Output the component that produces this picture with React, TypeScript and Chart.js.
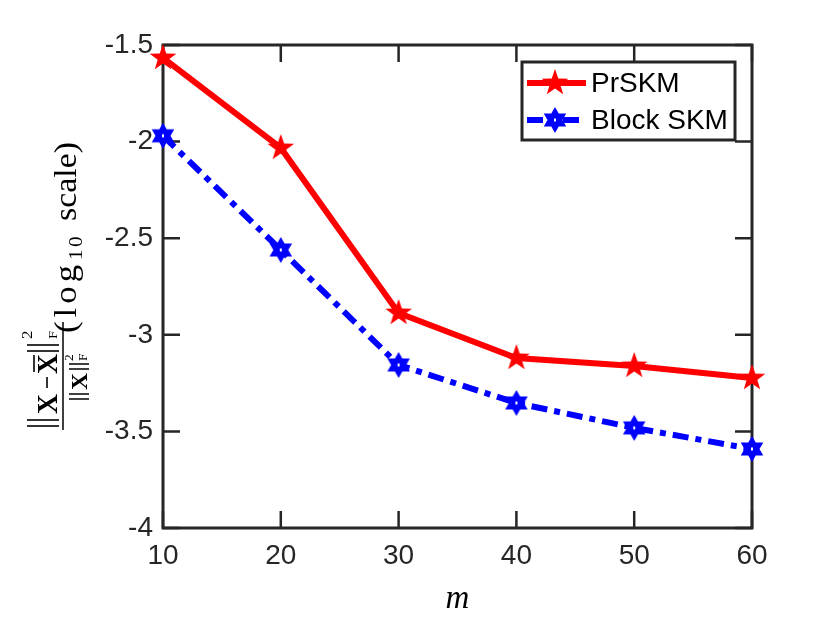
import { useEffect, useRef } from "react";
import { Chart, registerables } from "chart.js";

Chart.register(...registerables);

// values
const mValues = [10, 20, 30, 40, 50, 60];
const prskmErr = [-1.567, -2.033, -2.887, -3.12, -3.161, -3.224];
const blockSkmErr = [-1.97, -2.561, -3.156, -3.353, -3.482, -3.591];
const yTicks = [-4, -3.5, -3, -2.5, -2, -1.5];
const seriesNames = ["PrSKM", "Block SKM"];

const AXIS = "#262626";
const RED = "#ff0000";
const BLUE = "#0000ff";
const TICK_FONT = "Liberation Sans";
const SERIF = "Liberation Serif";
const TICK_LEN = 17;
const DASH_DOT = [16, 7, 6, 7];

function makeStar(points: number, outer: number, inner: number, color: string, hole: boolean) {
  const size = Math.ceil(outer * 2 + 4);
  const c = document.createElement("canvas");
  c.width = size;
  c.height = size;
  const g = c.getContext("2d")!;
  const cx = size / 2;
  const cy = size / 2;
  g.beginPath();
  for (let i = 0; i < points * 2; i++) {
    const r = i % 2 === 0 ? outer : inner;
    const a = -Math.PI / 2 + (i * Math.PI) / points;
    const x = cx + r * Math.cos(a);
    const y = cy + r * Math.sin(a);
    if (i === 0) g.moveTo(x, y);
    else g.lineTo(x, y);
  }
  g.closePath();
  g.fillStyle = color;
  g.fill();
  if (hole) {
    g.fillStyle = "#ffffff";
    g.fillRect(cx - 1, cy - 1.5, 2, 3);
  }
  return c;
}

// place text in [u0, u1] along the baseline: mild stretch, rest as letter spacing
function fitText(ctx: CanvasRenderingContext2D, text: string, font: string, u0: number, u1: number, v: number) {
  const c = ctx as any;
  ctx.font = font;
  c.letterSpacing = "0px";
  const w = ctx.measureText(text).width;
  const target = u1 - u0;
  const s = Math.min(target / w, 1.12);
  ctx.save();
  ctx.translate(u0, v);
  ctx.scale(s, 1);
  if (text.length > 1 && target / s > w) {
    c.letterSpacing = `${(target / s - w) / (text.length - 0.5)}px`;
  }
  ctx.fillText(text, 0, 0);
  ctx.restore();
  c.letterSpacing = "0px";
}

function seg(ctx: CanvasRenderingContext2D, u0: number, v0: number, u1: number, v1: number, lw: number) {
  ctx.lineWidth = lw;
  ctx.beginPath();
  ctx.moveTo(u0, v0);
  ctx.lineTo(u1, v1);
  ctx.stroke();
}

const App = () => {
  const canvasRef = useRef<HTMLCanvasElement>(null);

  useEffect(() => {
    if (!canvasRef.current) return;
    const redStar = makeStar(5, 14, 5.6, RED, false);
    const blueHex = makeStar(6, 13, 7.5, BLUE, true);

    const frame = {
      id: "frame",
      beforeDatasetsDraw(chart: any) {
        const { ctx, chartArea: a, scales } = chart;
        ctx.save();
        ctx.strokeStyle = AXIS;
        ctx.lineWidth = 2.5;
        ctx.beginPath();
        scales.x.ticks.forEach((t: any) => {
          const px = scales.x.getPixelForValue(t.value);
          ctx.moveTo(px, a.bottom);
          ctx.lineTo(px, a.bottom - TICK_LEN);
          ctx.moveTo(px, a.top);
          ctx.lineTo(px, a.top + TICK_LEN);
        });
        scales.y.ticks.forEach((t: any) => {
          const py = scales.y.getPixelForValue(t.value);
          ctx.moveTo(a.left, py);
          ctx.lineTo(a.left + TICK_LEN, py);
          ctx.moveTo(a.right, py);
          ctx.lineTo(a.right - TICK_LEN, py);
        });
        ctx.stroke();
        ctx.lineWidth = 3;
        ctx.strokeRect(a.left, a.top, a.right - a.left, a.bottom - a.top);
        ctx.restore();
      },
      afterDatasetsDraw(chart: any) {
        const { ctx, chartArea: a } = chart;
        ctx.save();

        // legend
        const lx = 522, ly = 62, lw = 213, lh = 78;
        ctx.fillStyle = "#ffffff";
        ctx.fillRect(lx, ly, lw, lh);
        ctx.strokeStyle = AXIS;
        ctx.lineWidth = 3;
        ctx.strokeRect(lx, ly, lw, lh);
        const rows = [
          { y: 83, color: RED, dash: [] as number[], img: redStar },
          { y: 120, color: BLUE, dash: DASH_DOT, img: blueHex },
        ];
        rows.forEach((r, i) => {
          ctx.strokeStyle = r.color;
          ctx.lineWidth = 6;
          ctx.setLineDash(r.dash);
          ctx.beginPath();
          ctx.moveTo(527, r.y);
          ctx.lineTo(586, r.y);
          ctx.stroke();
          ctx.setLineDash([]);
          ctx.drawImage(r.img, 555 - r.img.width / 2, r.y - r.img.height / 2);
          ctx.fillStyle = "#000000";
          ctx.font = `28px ${TICK_FONT}`;
          ctx.textBaseline = "middle";
          ctx.textAlign = "left";
          ctx.fillText(chart.data.datasets[i].label, 591, r.y + 1);
        });

        // x title
        ctx.fillStyle = "#000000";
        ctx.font = `italic 33px ${SERIF}`;
        ctx.textAlign = "center";
        ctx.textBaseline = "alphabetic";
        ctx.fillText("m", (a.left + a.right) / 2, 608);

        // y title: rotated fraction, frame origin on the fraction bar
        ctx.translate(63, 430);
        ctx.rotate(-Math.PI / 2);
        ctx.textAlign = "left";
        ctx.textBaseline = "alphabetic";
        ctx.strokeStyle = "#000000";
        ctx.fillStyle = "#000000";
        // numerator
        seg(ctx, 4, -36, 4, -4, 1.6);
        seg(ctx, 10, -36, 10, -4, 1.6);
        fitText(ctx, "X", `bold 30px ${SERIF}`, 16, 36, -6);
        seg(ctx, 42, -16, 53, -16, 1.6);
        fitText(ctx, "X", `bold 30px ${SERIF}`, 56, 76, -6);
        seg(ctx, 58, -29, 75, -29, 1.6);
        seg(ctx, 79, -36, 79, -4, 1.6);
        seg(ctx, 85, -36, 85, -4, 1.6);
        fitText(ctx, "2", `15px ${SERIF}`, 91, 100, -31);
        fitText(ctx, "F", `13px ${SERIF}`, 91, 100, -6);
        // fraction bar
        seg(ctx, 0, 0, 108, 0, 1.5);
        // denominator
        seg(ctx, 31, 6, 31, 26, 1.5);
        seg(ctx, 36, 6, 36, 26, 1.5);
        fitText(ctx, "X", `bold 24px ${SERIF}`, 40, 57, 24);
        seg(ctx, 61, 6, 61, 26, 1.5);
        seg(ctx, 66, 6, 66, 26, 1.5);
        fitText(ctx, "2", `12px ${SERIF}`, 69, 76, 10);
        fitText(ctx, "F", `12px ${SERIF}`, 69, 77, 24);
        // (log10 scale)
        fitText(ctx, "(log", `31px ${SERIF}`, 97, 167, 13);
        fitText(ctx, "10", `19px ${SERIF}`, 170, 195, 19);
        fitText(ctx, "scale)", `31px ${SERIF}`, 209, 288, 13);
        ctx.restore();
      },
    };

    const chart = new Chart(canvasRef.current, {
      type: "line",
      data: {
        datasets: [
          {
            label: seriesNames[0],
            data: mValues.map((m, i) => ({ x: m, y: prskmErr[i] })),
            borderColor: RED,
            backgroundColor: RED,
            borderWidth: 6,
            pointStyle: redStar,
            pointRadius: 14,
            clip: false as any,
          },
          {
            label: seriesNames[1],
            data: mValues.map((m, i) => ({ x: m, y: blockSkmErr[i] })),
            borderColor: BLUE,
            backgroundColor: BLUE,
            borderWidth: 6,
            borderDash: DASH_DOT,
            pointStyle: blueHex,
            pointRadius: 13,
            clip: false as any,
          },
        ],
      },
      options: {
        animation: false,
        responsive: true,
        maintainAspectRatio: false,
        layout: { padding: { top: 45, right: 78, left: 0, bottom: 0 } },
        plugins: { legend: { display: false }, tooltip: { enabled: false } },
        scales: {
          x: {
            type: "linear",
            min: 10,
            max: 60,
            afterBuildTicks: (s: any) => {
              s.ticks = mValues.map((v) => ({ value: v }));
            },
            afterFit: (s: any) => {
              s.height = 95;
            },
            grid: { display: false, drawTicks: false },
            border: { display: false },
            ticks: { color: AXIS, font: { family: TICK_FONT, size: 28 }, padding: 11 },
          },
          y: {
            type: "linear",
            min: -4,
            max: -1.5,
            afterBuildTicks: (s: any) => {
              s.ticks = yTicks.map((v) => ({ value: v }));
            },
            afterFit: (s: any) => {
              s.width = 163;
            },
            grid: { display: false, drawTicks: false },
            border: { display: false },
            ticks: {
              color: AXIS,
              font: { family: TICK_FONT, size: 28 },
              padding: 10,
              callback: (v: any) => String(v),
            },
          },
        },
      },
      plugins: [frame],
    });

    return () => {
      chart.destroy();
    };
  }, []);

  return (
    <div style={{ position: "fixed", left: 0, top: 0, width: 830, height: 623, background: "#fff" }}>
      <canvas ref={canvasRef}></canvas>
    </div>
  );
};

export default App;
